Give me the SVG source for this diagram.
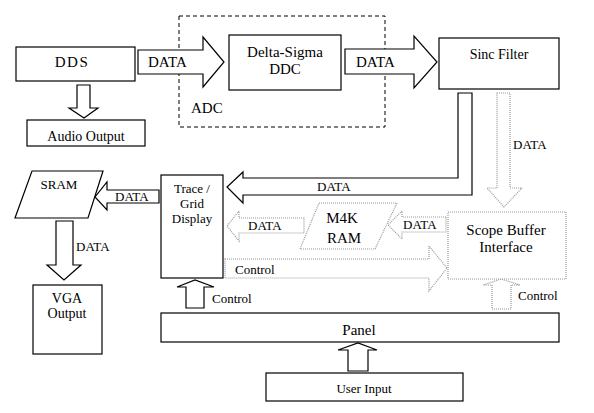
<svg xmlns="http://www.w3.org/2000/svg" width="594" height="413" viewBox="0 0 594 413">
<style>
text{font-family:"Liberation Serif",Tinos,"Times New Roman",Times,"Noto Serif","DejaVu Serif",FreeSerif,serif;fill:#000}
.b{fill:#fff;stroke:#000;stroke-width:1.2}
.d{fill:#fff;stroke:#999;stroke-width:1.2;stroke-dasharray:1 1}
.a{fill:#fff;stroke:#000;stroke-width:1.2}
.ad{fill:#fff;stroke:#999;stroke-width:1.2;stroke-dasharray:1 1}
.t15{font-size:15px}
.t14{font-size:14px}
.t13{font-size:13px}
.m{text-anchor:middle}
</style>
<rect width="594" height="413" fill="#fff"/>
<g id="adc">
<rect x="179" y="16" width="206" height="111" fill="none" stroke="#000" stroke-width="1" stroke-dasharray="4 3"/>
<text class="t15" x="191" y="113">ADC</text>
</g>
<g id="connectors">
<polygon class="a" points="138,50 203,50 203,37 224,62 203,87 203,74 138,74"/>
<text class="t15" x="148" y="67">DATA</text>
<polygon class="a" points="345,49 414,49 414,36 437,62 414,88 414,74 345,74"/>
<text class="t15" x="356" y="67">DATA</text>
<polygon class="a" points="77,85 90,85 90,108 98,108 84,118 69,108 77,108"/>
<polygon class="a" points="458,93 472,93 472,195 243,195 243,203 227,187 243,172 243,178 458,178"/>
<text class="t13" x="317" y="191">DATA</text>
<polygon class="ad" points="497,93 510,93 510,188 522,188 504,207 487,188 497,188"/>
<text class="t13" x="513" y="149">DATA</text>
<polygon class="a" points="159,190 107,190 107,182 95,197 107,210 107,203 159,203"/>
<text class="t13" x="115" y="201">DATA</text>
<polygon class="a" points="56,221 73,221 73,265 81,265 64,280 47,265 56,265"/>
<text class="t13" x="76" y="251">DATA</text>
<polygon class="ad" points="446,217 402,217 402,211 388,225 402,239 402,232 446,232"/>
<text class="t13" x="403" y="229">DATA</text>
<polygon class="ad" points="304,218 239,218 239,211 227,226 239,241 239,233 304,233"/>
<text class="t13" x="248" y="230">DATA</text>
<polygon class="ad" points="225,259 429,259 429,246 447,268 429,291 429,278 225,278"/>
<text class="t13" x="235" y="274">Control</text>
<polygon class="a" points="186,308 204,308 204,287 214,287 195,280 177,287 186,287"/>
<text class="t13" x="212" y="303">Control</text>
<polygon class="ad" points="492,309 511,309 511,285 520,285 501,279 483,285 492,285"/>
<text class="t13" x="518" y="300">Control</text>
<polygon class="a" points="348,371 368,371 368,350 377,350 358,343 338,350 348,350"/>
</g>
<g id="dds">
<rect class="b" x="16" y="47" width="119" height="34"/>
<text class="t15 m" x="72" y="67" letter-spacing="1.5">DDS</text>
</g>
<g id="audio">
<rect class="b" x="27" y="120" width="118" height="26"/>
<text class="t14 m" x="86" y="141">Audio Output</text>
</g>
<g id="ddc">
<rect class="b" x="229" y="35" width="112" height="55"/>
<text class="t15 m" x="285" y="57">Delta-Sigma</text>
<text class="t15 m" x="285" y="74">DDC</text>
</g>
<g id="sinc">
<rect class="b" x="439" y="38" width="120" height="51"/>
<text class="t14 m" x="499" y="59">Sinc Filter</text>
</g>
<g id="sram">
<polygon class="b" points="32,171 103,171 88,218 15,218"/>
<text class="t13 m" x="59" y="189">SRAM</text>
</g>
<g id="vga">
<rect class="b" x="33" y="285" width="69" height="69"/>
<text class="t14 m" x="67" y="303">VGA</text>
<text class="t14 m" x="67" y="318">Output</text>
</g>
<g id="trace">
<rect class="b" x="161" y="175" width="62" height="103"/>
<text class="t13 m" x="192" y="193">Trace /</text>
<text class="t13 m" x="192" y="208">Grid</text>
<text class="t13 m" x="192" y="223">Display</text>
</g>
<g id="m4k">
<polygon class="d" points="319,203 397,203 375,249 300,249"/>
<text class="t15 m" x="342" y="223">M4K</text>
<text class="t15 m" x="344" y="243">RAM</text>
</g>
<g id="scope">
<rect class="d" x="448" y="212" width="118" height="67"/>
<text class="t15 m" x="506" y="235">Scope Buffer</text>
<text class="t15 m" x="506" y="252">Interface</text>
</g>
<g id="panel">
<rect class="b" x="161" y="313" width="398" height="29"/>
<text class="t15 m" x="359" y="335">Panel</text>
</g>
<g id="user">
<rect class="b" x="266" y="373" width="197" height="28"/>
<text class="t13 m" x="364" y="393">User Input</text>
</g>
</svg>
